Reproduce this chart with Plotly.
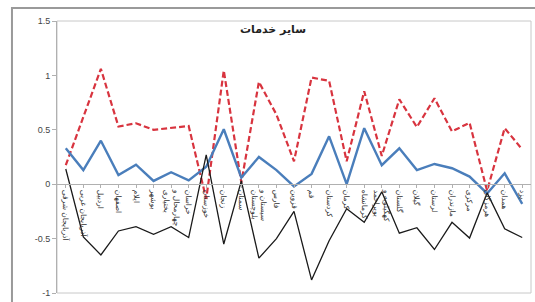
import plotly.graph_objects as go

provinces = [
    "آذربایجان شرقی", "آذربایجان غربی", "اردبیل", "اصفهان", "ایلام", "بوشهر",
    "چهارمحال و<br>بختیاری", "خراسان", "خوزستان", "زنجان", "سمنان",
    "سیستان و<br>بلوچستان", "فارس", "قزوین", "قم", "کردستان", "کرمان", "کرمانشاه",
    "کهگیلویه و<br>بویراحمد", "گلستان", "گیلان", "لرستان", "مازندران", "مرکزی",
    "هرمزگان", "همدان", "یزد",
]

series_blue = [0.33, 0.13, 0.40, 0.085, 0.18, 0.03, 0.11, 0.035, 0.16, 0.505,
               0.06, 0.25, 0.13, -0.02, 0.095, 0.44, 0.0, 0.515, 0.175, 0.33,
               0.13, 0.186, 0.147, 0.07, -0.085, 0.10, -0.18]
series_red = [0.175, 0.62, 1.06, 0.53, 0.56, 0.50, 0.515, 0.535, -0.135, 1.045,
              0.015, 0.94, 0.64, 0.21, 0.98, 0.95, 0.21, 0.855, 0.26, 0.78,
              0.525, 0.79, 0.485, 0.565, -0.06, 0.515, 0.32]
series_black = [0.14, -0.485, -0.65, -0.43, -0.39, -0.46, -0.39, -0.49, 0.27, -0.55,
                0.03, -0.68, -0.50, -0.25, -0.88, -0.52, -0.225, -0.35, -0.07, -0.45,
                -0.40, -0.60, -0.35, -0.495, -0.08, -0.41, -0.49]

y_ticks = [-1, -0.5, 0, 0.5, 1, 1.5]
y_tick_text = ["-1", "-0.5", "0", "0.5", "1", "1.5"]
title_text = "سایر خدمات"

x = list(range(len(provinces)))

fig = go.Figure()
fig.add_trace(go.Scatter(x=x, y=series_red, mode="lines",
                         line=dict(color="#d8343f", width=2.2, dash="6px,3px"),
                         showlegend=False))
fig.add_trace(go.Scatter(x=x, y=series_blue, mode="lines",
                         line=dict(color="#4a7ebb", width=2.4),
                         showlegend=False))
fig.add_trace(go.Scatter(x=x, y=series_black, mode="lines",
                         line=dict(color="#1a1a1a", width=1.3),
                         showlegend=False))

fig.update_layout(
    width=535, height=302,
    margin=dict(l=57, r=4, t=21, b=9),
    paper_bgcolor="white", plot_bgcolor="white",
    font=dict(family="DejaVu Sans", color="#333"),
    xaxis=dict(
        range=[-0.5, len(provinces) - 0.5],
        tickmode="array", tickvals=x, ticktext=provinces,
        tickangle=90, tickfont=dict(size=7.5, color="#333", family="DejaVu Sans"),
        anchor="free", position=0.4,
        showline=True, linecolor="#b0b0b0", linewidth=1,
        ticks="outside", ticklen=3, tickcolor="#b0b0b0",
        showgrid=False, zeroline=False,
    ),
    yaxis=dict(
        range=[-1, 1.5],
        tickmode="array", tickvals=y_ticks, ticktext=y_tick_text,
        tickfont=dict(size=9, color="#444", family="Liberation Sans"),
        showline=True, linecolor="#b0b0b0", linewidth=1,
        ticks="outside", ticklen=4, tickcolor="#b0b0b0",
        showgrid=False, zeroline=False,
    ),
    shapes=[
        dict(type="rect", xref="paper", yref="paper", x0=0, x1=1, y0=0, y1=1,
             line=dict(color="#c8c8c8", width=1), layer="below"),
        dict(type="rect", xref="paper", yref="paper", x0=-0.095, x1=1.05, y0=-0.1, y1=1.048,
             line=dict(color="#9a9a9a", width=2)),
    ],
    annotations=[
        dict(text="<b>" + title_text + "</b>", xref="paper", yref="paper",
             x=0.456, y=1.0, yanchor="top", showarrow=False,
             font=dict(size=11, color="#222", family="DejaVu Sans")),
    ],
)

fig.write_html("out.html", config={"displayModeBar": False},
               post_script="document.body.style.margin='0px';")
